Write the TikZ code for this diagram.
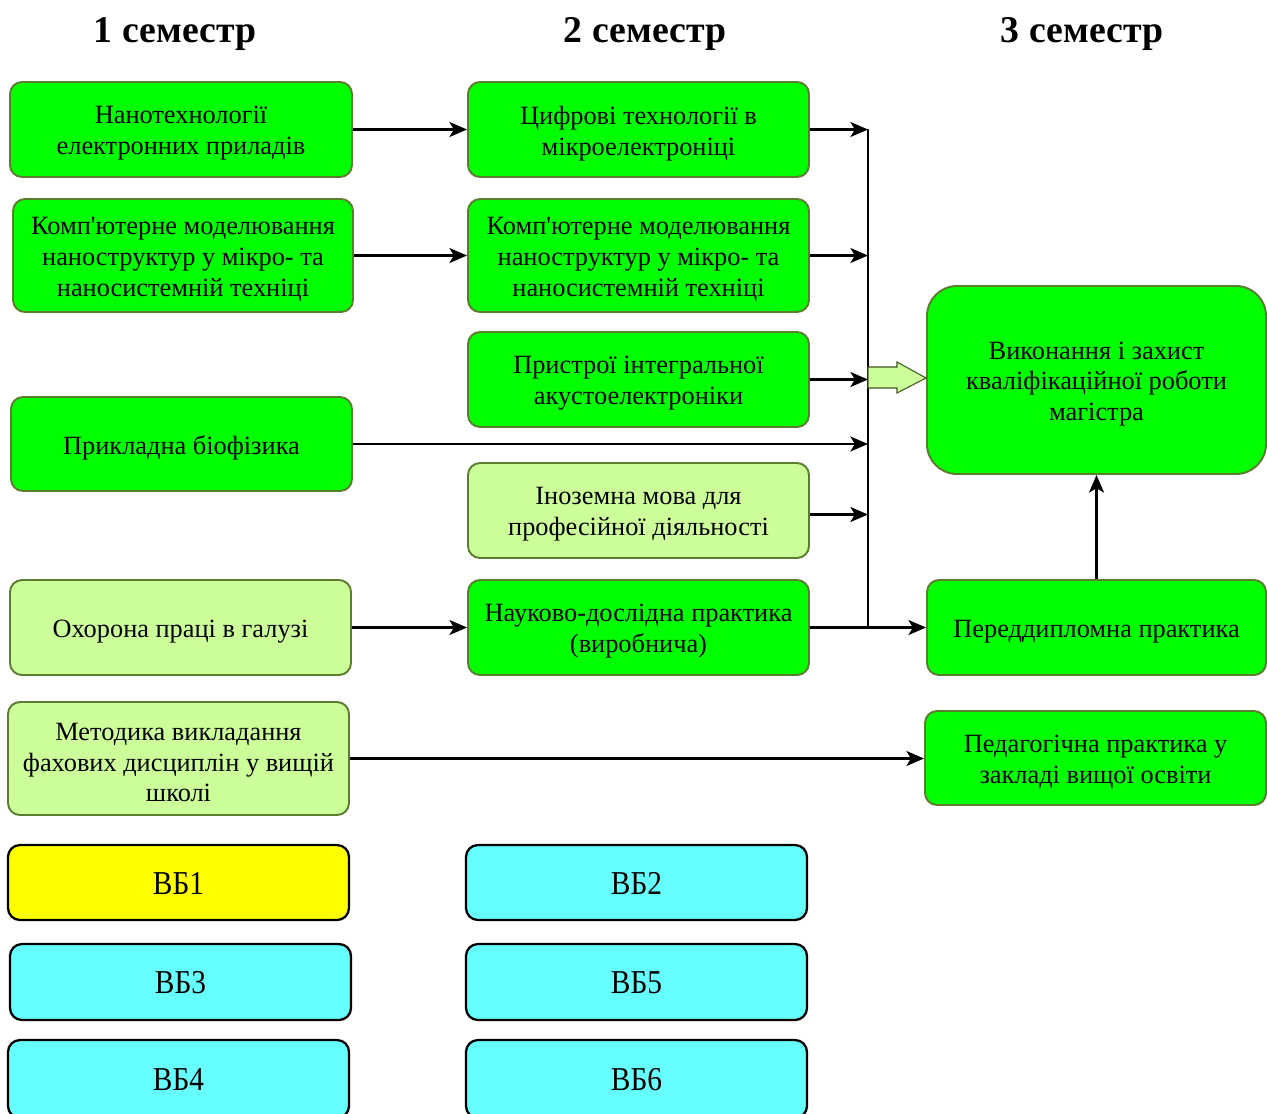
\documentclass[tikz,border=0pt]{standalone}
\usepackage{fontspec}
\setmainfont{Liberation Serif}[Ligatures=TeXOff]
\usetikzlibrary{arrows.meta,calc}
\definecolor{gfill}{HTML}{00FF00}
\definecolor{lgfill}{HTML}{CCFF99}
\definecolor{cyfill}{HTML}{66FFFF}
\definecolor{yfill}{HTML}{FFFF00}
\definecolor{gborder}{HTML}{5A7D2E}
\newcommand\bx[8]{%
  \pgfmathsetmacro\bxw{(#4-#2)*0.02}%
  \pgfmathsetmacro\bxh{(#5-#3)*0.02}%
  \node[#6, minimum width=\bxw cm, minimum height=\bxh cm] (#1) at ({(#2+#4)/2},{(#3+#5)/2}) {};
  \node[#7] (#1-t) at ($(#1.center)+(0,4)$) {#8};}
\tikzset{
  base/.style={rectangle, rounded corners=0.24cm, inner sep=0pt},
  gbox/.style={base, fill=gfill, draw=gborder, line width=1.1pt},
  lgbox/.style={base, fill=lgfill, draw=gborder, line width=1.1pt},
  vbbox/.style={base, draw=black, line width=1.3pt},
  txt/.style={align=center, inner sep=0pt, font=\fontsize{15}{17.6}\selectfont},
  vbtxt/.style={align=center, inner sep=0pt, yshift=0.06cm, font=\fontsize{19}{22}\selectfont},
  conn/.style={line width=1.4pt, -{Stealth[length=10pt,width=8.5pt,inset=2.5pt]}},
  bus/.style={line width=1.5pt},
  head/.style={font=\fontsize{21.5}{26}\selectfont\bfseries, anchor=base, inner sep=0pt},
  bigarrow/.style={fill=lgfill, draw=gborder!70!black, line width=0.6pt}
}
\newcommand\vb[1]{\scalebox{0.88}[1]{#1}}
\begin{document}
\begin{tikzpicture}[x=0.02cm,y=-0.02cm]
\useasboundingbox (0,0) rectangle (1267,1113);
% headers
\node[head] (h1) at (175,42) {1 семестр};
\node[head] (h2) at (645,42) {2 семестр};
\node[head] (h3) at (1082,42) {3 семестр};
% column 1
\bx{nano}{10}{82}{352}{177}{gbox}{txt}{Нанотехнології\\електронних приладів}
\bx{kompA}{13}{199}{353}{312}{gbox}{txt}{Комп'ютерне моделювання\\наноструктур у мікро- та\\наносистемній техніці}
\bx{pryk}{11}{397}{352}{491}{gbox}{txt}{Прикладна біофізика}
\bx{okh}{10}{580}{351}{675}{lgbox}{txt}{Охорона праці в галузі}
\bx{met}{8}{702}{349}{815}{lgbox}{txt}{Методика викладання\\фахових дисциплін у вищій\\школі}
\bx{vb1}{8}{845}{349}{920}{vbbox, fill=yfill}{vbtxt}{\vb{ВБ1}}
\bx{vb3}{10}{944}{351}{1020}{vbbox, fill=cyfill}{vbtxt}{\vb{ВБ3}}
\bx{vb4}{8}{1040}{349}{1118}{vbbox, fill=cyfill}{vbtxt}{\vb{ВБ4}}
% column 2
\bx{tsyf}{468}{82}{809}{177}{gbox}{txt}{Цифрові технології в\\мікроелектроніці}
\bx{kompB}{468}{199}{809}{312}{gbox}{txt}{Комп'ютерне моделювання\\наноструктур у мікро- та\\наносистемній техніці}
\bx{pryst}{468}{332}{809}{427}{gbox}{txt}{Пристрої інтегральної\\акустоелектроніки}
\bx{inoz}{468}{463}{809}{558}{lgbox}{txt}{Іноземна мова для\\професійної діяльності}
\bx{nauk}{468}{580}{809}{675}{gbox}{txt}{Науково-дослідна практика\\(виробнича)}
\bx{vb2}{466}{845}{807}{920}{vbbox, fill=cyfill}{vbtxt}{\vb{ВБ2}}
\bx{vb5}{466}{944}{807}{1020}{vbbox, fill=cyfill}{vbtxt}{\vb{ВБ5}}
\bx{vb6}{466}{1040}{807}{1118}{vbbox, fill=cyfill}{vbtxt}{\vb{ВБ6}}
% column 3
\bx{vyk}{927}{286}{1266}{474}{gbox, rounded corners=0.6cm}{txt}{Виконання і захист\\кваліфікаційної роботи\\магістра}
\bx{pered}{927}{580}{1266}{675}{gbox}{txt}{Переддипломна практика}
\bx{ped}{925}{711}{1266}{805}{gbox}{txt}{Педагогічна практика у\\закладі вищої освіти}
% bus
\coordinate (bt) at (868,129);
\coordinate (bb) at (868,628);
\draw[bus] (bt) -- (bb);
% connectors
\draw[conn] (nano.east) -- (nano.east -| tsyf.west);
\draw[conn] (kompA.east) -- (kompA.east -| kompB.west);
\draw[conn] (okh.east) -- (okh.east -| nauk.west);
\draw[conn] (tsyf.east) -- (tsyf.east -| bt);
\draw[conn] (kompB.east) -- (kompB.east -| bt);
\draw[conn] (pryst.east) -- (pryst.east -| bt);
\draw[conn] (pryk.east) -- (pryk.east -| bt);
\draw[conn] ($(inoz.east)+(0,4)$) -- ($(inoz.east -| bt)+(0,4)$);
\draw[conn] (nauk.east) -- (nauk.east -| pered.west);
\draw[conn] (met.east) -- (met.east -| ped.west);
\draw[conn] (pered.north) -- (vyk.south);
% big hollow arrow
\draw[bigarrow] (868,367) -- (897,367) -- (897,362) -- (vyk.west |- 0,378) -- (897,393) -- (897,388) -- (868,388) -- cycle;
\end{tikzpicture}
\end{document}
